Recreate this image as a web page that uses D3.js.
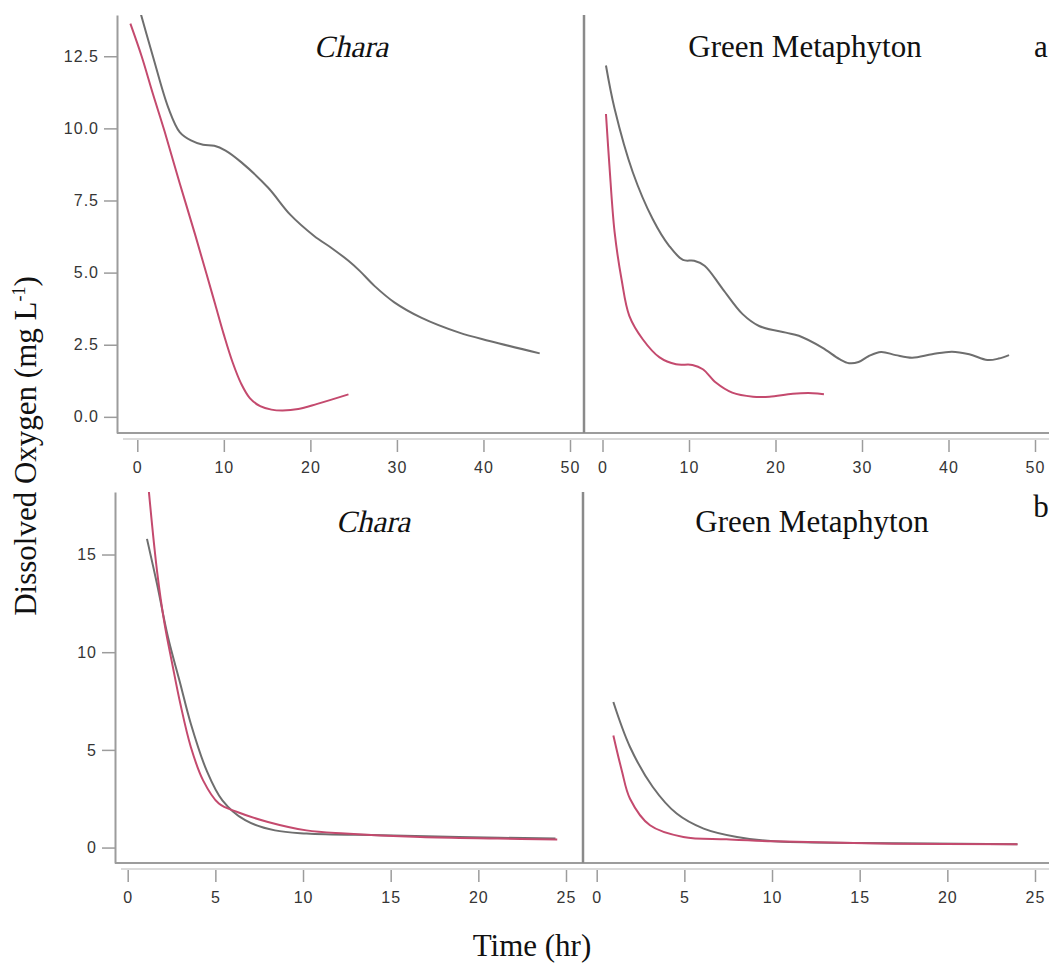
<!DOCTYPE html>
<html>
<head>
<meta charset="utf-8">
<script src="https://cdn.jsdelivr.net/npm/d3@7"></script>
<style>
  body { margin: 0; background: #fff; }
  .tick text { font-family: "Liberation Sans", Arial, sans-serif; font-size: 16px; fill: #353535; letter-spacing: 1px; }
  .serif { font-family: "Liberation Serif", "Times New Roman", serif; font-size: 31px; fill: #111; }
</style>
</head>
<body>
<div id="chart"></div>
<script>
  'use strict';

  // panel a: long incubations (hr, mg/L)
  const charaA_gray_t = [0, 1.8, 3.6, 4.9, 6.2, 7.6, 8.9, 10.2, 12, 15.1, 17.7, 20.4, 22.6, 24.4, 25.7, 27.4, 29.7, 32.8, 37.2, 40.7, 46.5];
  const charaA_gray_v = [14.4, 12.5, 10.7, 9.87, 9.58, 9.43, 9.4, 9.23, 8.83, 7.95, 7.0, 6.28, 5.82, 5.41, 5.06, 4.54, 3.97, 3.44, 2.92, 2.63, 2.2];
  const charaA_pink_t = [-0.8, 0.5, 1.8, 3.15, 4.9, 6.7, 8.0, 9.0, 10.0, 11.0, 12.0, 13.0, 14.2, 15.5, 16.8, 18.6, 20.8, 24.4];
  const charaA_pink_v = [13.63, 12.5, 11.2, 9.9, 8.1, 6.3, 4.95, 3.9, 2.85, 1.9, 1.15, 0.65, 0.37, 0.25, 0.22, 0.27, 0.45, 0.78];

  const metaA_gray_t = [0.4, 1.4, 3.5, 5.8, 7.7, 9.3, 10.6, 11.8, 13.9, 16.2, 18.1, 21.2, 22.7, 25.4, 27.4, 28.5, 29.6, 30.8, 32.2, 33.9, 35.8, 38.1, 40.4, 42.4, 44.5, 45.8, 47.0];
  const metaA_gray_v = [12.18, 10.68, 8.48, 6.86, 5.93, 5.44, 5.41, 5.24, 4.43, 3.56, 3.15, 2.92, 2.81, 2.4, 2.0, 1.86, 1.9, 2.11, 2.25, 2.14, 2.05, 2.17, 2.26, 2.17, 1.97, 2.02, 2.14];
  const metaA_pink_t = [0.4, 0.8, 1.4, 2.2, 3.1, 4.65, 6.6, 8.5, 10.4, 11.6, 13.1, 15.0, 17.4, 19.3, 22.0, 24.3, 25.6];
  const metaA_pink_v = [10.5, 8.71, 6.4, 4.77, 3.5, 2.69, 2.06, 1.82, 1.8, 1.65, 1.19, 0.84, 0.7, 0.7, 0.8, 0.82, 0.78];

  // panel b: short incubations
  const charaB_gray_t = [1.1, 1.67, 2.3, 3.0, 3.6, 4.5, 5.4, 6.7, 8.4, 10.2, 14.5, 18.9, 24.4];
  const charaB_gray_v = [15.8, 13.5, 10.77, 8.39, 6.34, 3.95, 2.42, 1.4, 0.88, 0.72, 0.63, 0.54, 0.46];
  const charaB_pink_t = [1.2, 1.67, 2.1, 2.54, 3.0, 3.6, 4.3, 5.2, 6.25, 8.0, 10.2, 12.4, 16.7, 21.1, 24.5];
  const charaB_pink_v = [18.3, 14.18, 11.46, 9.41, 7.37, 5.15, 3.44, 2.25, 1.82, 1.31, 0.88, 0.72, 0.54, 0.46, 0.41];

  const metaB_gray_t = [0.95, 1.9, 3.2, 4.56, 6.1, 8.0, 10.1, 15.0, 24.0];
  const metaB_gray_v = [7.45, 5.15, 3.1, 1.74, 0.97, 0.54, 0.32, 0.24, 0.17];
  const metaB_pink_t = [0.95, 1.43, 1.9, 3.04, 4.94, 7.4, 10.1, 16.9, 24.0];
  const metaB_pink_v = [5.74, 3.95, 2.5, 1.14, 0.54, 0.42, 0.32, 0.2, 0.17];

  const yTicksA = [0, 2.5, 5, 7.5, 10, 12.5];
  const yTicksB = [0, 5, 10, 15];
  const xTicksA = [0, 10, 20, 30, 40, 50];
  const xTicksB = [0, 5, 10, 15, 20, 25];

  const GRAY = '#6e6e6e';
  const PINK = '#c44a6e';
  const AXIS = '#9c9c9c';

  const svg = d3.select('#chart').append('svg')
    .attr('width', 1054)
    .attr('height', 968);

  const zip = (t, v) => t.map((d, i) => [d, v[i]]);

  function drawRow(cfg) {
    const g = svg.append('g');
    const y = d3.scaleLinear().domain(cfg.yDomain).range([cfg.bottom, cfg.top]);

    // clip for the curves
    const clipId = 'clip' + cfg.name;
    svg.append('clipPath').attr('id', clipId)
      .append('rect')
      .attr('x', cfg.left).attr('y', cfg.top)
      .attr('width', 1050 - cfg.left).attr('height', cfg.bottom - cfg.top);

    // y axis
    g.append('g')
      .attr('transform', `translate(${cfg.left},0)`)
      .call(d3.axisLeft(y).tickValues(cfg.yTicks).tickFormat(cfg.yFmt).tickSize(13).tickSizeOuter(0).tickPadding(5))
      .call(a => a.select('.domain').attr('stroke', AXIS).attr('stroke-width', 2))
      .call(a => a.selectAll('.tick line').attr('stroke', AXIS).attr('stroke-width', 1.5));

    // x axis double line
    g.append('line')
      .attr('x1', cfg.left).attr('x2', 1049)
      .attr('y1', cfg.bottom).attr('y2', cfg.bottom)
      .attr('stroke', AXIS).attr('stroke-width', 2);
    g.append('line')
      .attr('x1', cfg.left + 6).attr('x2', 1049)
      .attr('y1', cfg.bottom + 6).attr('y2', cfg.bottom + 6)
      .attr('stroke', '#cfcfcf').attr('stroke-width', 1.5);

    // divider
    g.append('line')
      .attr('x1', cfg.divider).attr('x2', cfg.divider)
      .attr('y1', cfg.top).attr('y2', cfg.bottom)
      .attr('stroke', '#8a8a8a').attr('stroke-width', 2.5);

    cfg.panels.forEach(p => {
      const x = d3.scaleLinear().domain(cfg.xDomain).range(p.xRange);

      g.append('g')
        .attr('transform', `translate(0,${cfg.bottom + 7})`)
        .call(d3.axisBottom(x).tickValues(cfg.xTicks).tickSize(12).tickSizeOuter(0).tickPadding(10))
        .call(a => a.select('.domain').remove())
        .call(a => a.selectAll('.tick line').attr('stroke', AXIS).attr('stroke-width', 1.5));

      const line = d3.line()
        .x(d => x(d[0]))
        .y(d => y(d[1]))
        .curve(d3.curveCatmullRom.alpha(0.5));

      const lines = g.append('g').attr('clip-path', `url(#${clipId})`);
      p.series.forEach(s => {
        lines.append('path')
          .datum(s.data)
          .attr('d', line)
          .attr('fill', 'none')
          .attr('stroke', s.color)
          .attr('stroke-width', 2)
          .attr('stroke-linejoin', 'round');
      });

      // italic is faked with a skew so the serif face is kept
      g.append('text')
        .attr('class', 'serif')
        .attr('transform', `translate(${p.titleX},${cfg.titleY})` + (p.italic ? ' skewX(-13)' : ''))
        .attr('text-anchor', 'middle')
        .text(p.title);
    });

    g.append('text')
      .attr('class', 'serif')
      .attr('x', 1041).attr('y', cfg.letterY)
      .attr('text-anchor', 'middle')
      .text(cfg.letter);
  }

  drawRow({
    name: 'A', top: 15, bottom: 433, left: 117, divider: 584,
    yDomain: [-0.56, 13.93], yTicks: yTicksA, yFmt: d3.format('.1f'),
    xDomain: [0, 50], xTicks: xTicksA,
    titleY: 57, letter: 'a', letterY: 57,
    panels: [
      { xRange: [137.3, 570], title: 'Chara', italic: true, titleX: 351,
        series: [ { data: zip(charaA_gray_t, charaA_gray_v), color: GRAY },
                  { data: zip(charaA_pink_t, charaA_pink_v), color: PINK } ] },
      { xRange: [602.5, 1035], title: 'Green Metaphyton', italic: false, titleX: 805,
        series: [ { data: zip(metaA_gray_t, metaA_gray_v), color: GRAY },
                  { data: zip(metaA_pink_t, metaA_pink_v), color: PINK } ] }
    ]
  });

  drawRow({
    name: 'B', top: 492, bottom: 863, left: 115, divider: 583,
    yDomain: [-0.79, 18.2], yTicks: yTicksB, yFmt: d3.format('d'),
    xDomain: [0, 25], xTicks: xTicksB,
    titleY: 532, letter: 'b', letterY: 517,
    panels: [
      { xRange: [127.7, 566], title: 'Chara', italic: true, titleX: 373,
        series: [ { data: zip(charaB_gray_t, charaB_gray_v), color: GRAY },
                  { data: zip(charaB_pink_t, charaB_pink_v), color: PINK } ] },
      { xRange: [596.7, 1035], title: 'Green Metaphyton', italic: false, titleX: 812,
        series: [ { data: zip(metaB_gray_t, metaB_gray_v), color: GRAY },
                  { data: zip(metaB_pink_t, metaB_pink_v), color: PINK } ] }
    ]
  });

  // shared axis titles
  svg.append('text')
    .attr('class', 'serif')
    .attr('transform', 'translate(36,446) rotate(-90)')
    .attr('text-anchor', 'middle')
    .call(t => {
      t.append('tspan').text('Dissolved Oxygen (mg L');
      t.append('tspan').attr('dy', -11).style('font-size', '18px').text('-1');
      t.append('tspan').attr('dy', 11).text(')');
    });

  svg.append('text')
    .attr('class', 'serif')
    .attr('x', 532).attr('y', 956)
    .attr('text-anchor', 'middle')
    .text('Time (hr)');
</script>
</body>
</html>
